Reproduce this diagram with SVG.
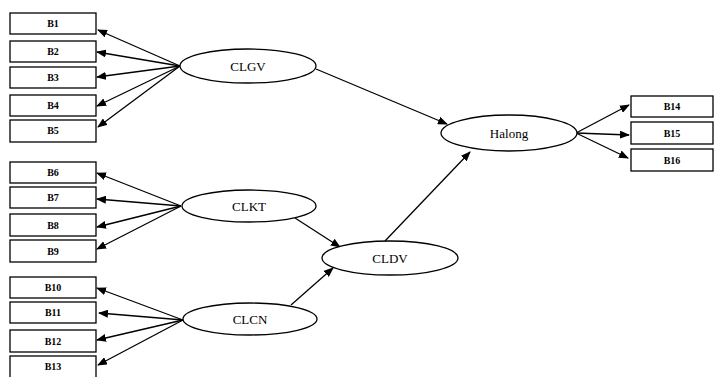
<svg xmlns="http://www.w3.org/2000/svg" width="714" height="377" viewBox="0 0 714 377">
<style>
.box{fill:#fff;stroke:#000;stroke-width:1.3}
.ell{fill:#fff;stroke:#000;stroke-width:1.3}
.bl{font-family:"Liberation Serif",serif;font-size:10px;font-weight:bold;text-anchor:middle;fill:#000}
.el{font-family:"Liberation Serif",serif;font-size:13px;text-anchor:middle;fill:#000}
.c line{stroke:#000;stroke-width:1.3;marker-end:url(#ah)}
</style>
<defs>
<marker id="ah" markerUnits="userSpaceOnUse" markerWidth="10" markerHeight="8" refX="9" refY="4" orient="auto">
<path d="M0,0 L10,4 L0,8 Z" fill="#000"/>
</marker>
</defs>
<g class="c" id="connectors">
<line x1="180" y1="66" x2="98" y2="30"/>
<line x1="180" y1="66" x2="97" y2="52"/>
<line x1="180" y1="66" x2="97" y2="77"/>
<line x1="180" y1="66" x2="97" y2="106"/>
<line x1="180" y1="66" x2="98" y2="127"/>
<line x1="181" y1="206" x2="97" y2="173"/>
<line x1="181" y1="206" x2="97" y2="199"/>
<line x1="181" y1="206" x2="97" y2="227"/>
<line x1="181" y1="206" x2="97" y2="249"/>
<line x1="183" y1="320" x2="97" y2="288"/>
<line x1="183" y1="320" x2="99" y2="313"/>
<line x1="183" y1="320" x2="97" y2="340"/>
<line x1="183" y1="320" x2="98" y2="365"/>
<line x1="316" y1="69" x2="447" y2="124"/>
<line x1="295" y1="218" x2="340" y2="247"/>
<line x1="291" y1="305" x2="333" y2="268"/>
<line x1="385" y1="241" x2="470" y2="152"/>
<line x1="576" y1="133" x2="629" y2="105"/>
<line x1="576" y1="133" x2="629" y2="135"/>
<line x1="576" y1="133" x2="628" y2="158"/>
</g>
<g id="B1"><rect class="box" x="10" y="13" width="86" height="21"/><text class="bl" x="53" y="27">B1</text></g>
<g id="B2"><rect class="box" x="10" y="41" width="86" height="21"/><text class="bl" x="53" y="55">B2</text></g>
<g id="B3"><rect class="box" x="10" y="67" width="86" height="21"/><text class="bl" x="53" y="81">B3</text></g>
<g id="B4"><rect class="box" x="10" y="95" width="86" height="21"/><text class="bl" x="53" y="109">B4</text></g>
<g id="B5"><rect class="box" x="10" y="120" width="86" height="22"/><text class="bl" x="53" y="134">B5</text></g>
<g id="B6"><rect class="box" x="10" y="162" width="86" height="21"/><text class="bl" x="53" y="176">B6</text></g>
<g id="B7"><rect class="box" x="10" y="187" width="86" height="21"/><text class="bl" x="53" y="201">B7</text></g>
<g id="B8"><rect class="box" x="10" y="214" width="86" height="22"/><text class="bl" x="53" y="229">B8</text></g>
<g id="B9"><rect class="box" x="10" y="240" width="86" height="22"/><text class="bl" x="53" y="255">B9</text></g>
<g id="B10"><rect class="box" x="10" y="277" width="86" height="21"/><text class="bl" x="53" y="291">B10</text></g>
<g id="B11"><rect class="box" x="10" y="302" width="86" height="21"/><text class="bl" x="53" y="316">B11</text></g>
<g id="B12"><rect class="box" x="10" y="330" width="86" height="22"/><text class="bl" x="53" y="345">B12</text></g>
<g id="B13"><rect class="box" x="10" y="356" width="86" height="22"/><text class="bl" x="53" y="370">B13</text></g>
<g id="B14"><rect class="box" x="631" y="96" width="82" height="21"/><text class="bl" x="672" y="110">B14</text></g>
<g id="B15"><rect class="box" x="631" y="122" width="82" height="22"/><text class="bl" x="672" y="137">B15</text></g>
<g id="B16"><rect class="box" x="631" y="149" width="82" height="22"/><text class="bl" x="672" y="164">B16</text></g>
<g id="CLGV"><ellipse class="ell" cx="248" cy="66" rx="68" ry="17"/><text class="el" x="248" y="71">CLGV</text></g>
<g id="CLKT"><ellipse class="ell" cx="249" cy="206" rx="67" ry="16"/><text class="el" x="249" y="211">CLKT</text></g>
<g id="CLCN"><ellipse class="ell" cx="250" cy="319" rx="67" ry="16"/><text class="el" x="250" y="324">CLCN</text></g>
<g id="CLDV"><ellipse class="ell" cx="390" cy="258" rx="68" ry="17"/><text class="el" x="390" y="263">CLDV</text></g>
<g id="Halong"><ellipse class="ell" cx="509" cy="133" rx="68" ry="18"/><text class="el" x="509" y="138">Halong</text></g>
</svg>
